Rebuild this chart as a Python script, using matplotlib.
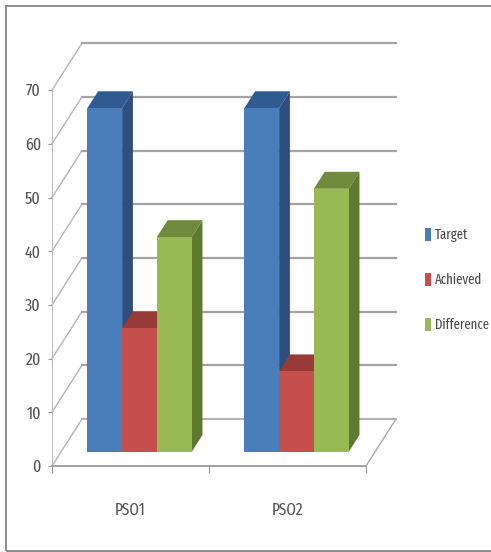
import matplotlib
matplotlib.use('Agg')
import matplotlib.pyplot as plt
from matplotlib.patches import Patch, Rectangle

categories = ['PSO1', 'PSO2']
series_names = ['Target', 'Achieved', 'Difference']
target = [64, 64]
achieved = [23, 15]
difference = [40, 49]
value_ticks = [0, 10, 20, 30, 40, 50, 60, 70]

front_colors = ['#4A7EBB', '#C44F4C', '#98B954']
top_colors = ['#2F5A92', '#983A38', '#6F8A3A']
side_colors = ['#2E4F7E', '#8A3432', '#5F7A30']

W, H = 491, 552
# scale of the plot: pixels per category and per value unit
px_cat = 157.0
px_val = 5.37
x0_px, y0_px = 52, 466
# floor depth in pixels, projected obliquely
depth_x, depth_y = 30, 47

plt.rcParams['font.family'] = ['Fira Sans Extra Condensed', 'PT Sans Narrow', 'Liberation Sans', 'DejaVu Sans']

fig = plt.figure(figsize=(W / 100, H / 100), dpi=100, facecolor='white')
ax = fig.add_axes([0, 0, 1, 1])
ax.set_xlim(-x0_px / px_cat, (W - x0_px) / px_cat)
ax.set_ylim(-(H - y0_px) / px_val, y0_px / px_val)
ax.patch.set_visible(False)


def proj(x, v, d):
    # oblique projection: d runs from 0 (front of floor) to 1 (back wall)
    return x + d * depth_x / px_cat, v + d * depth_y / px_val


# walls and gridlines
grid_col = '#A3A3A3'
for v in value_ticks:
    xa, ya = proj(0, v, 0)
    xb, yb = proj(0, v, 1)
    xc, yc = proj(2, v, 1)
    lw = 1.6 if v > 0 else 1.2
    ax.plot([xa, xb], [ya, yb], color='#B5B5B5', lw=1.0, zorder=1)
    ax.plot([xb, xc], [yb, yc], color=grid_col, lw=lw, zorder=1)
xa, ya = proj(2, 0, 0)
xb, yb = proj(2, 0, 1)
ax.plot([xa, xb], [ya, yb], color='#A8A8A8', lw=1.0, zorder=1)

# 3D bars, drawn left to right so nearer faces overlap correctly
bar_w = 0.2215
d_front, d_back = 0.30, 0.66
values = [target, achieved, difference]
z = 2
for c in range(len(categories)):
    for s in range(len(series_names)):
        v = values[s][c]
        left = c + 0.5 - 1.5 * bar_w + s * bar_w
        right = left + bar_w
        side = [proj(right, 0, d_front), proj(right, 0, d_back),
                proj(right, v, d_back), proj(right, v, d_front)]
        top = [proj(left, v, d_front), proj(left, v, d_back),
               proj(right, v, d_back), proj(right, v, d_front)]
        front = [proj(left, 0, d_front), proj(right, 0, d_front),
                 proj(right, v, d_front), proj(left, v, d_front)]
        ax.fill(*zip(*side), color=side_colors[s], lw=0, zorder=z)
        ax.fill(*zip(*top), color=top_colors[s], lw=0, zorder=z)
        ax.fill(*zip(*front), color=front_colors[s], lw=0, zorder=z)
        z += 1

# front axes
for name in ['top', 'right']:
    ax.spines[name].set_visible(False)
ax.spines['left'].set_position(('data', 0))
ax.spines['left'].set_bounds(0, 70)
ax.spines['left'].set_color('#BDBDBD')
ax.spines['bottom'].set_position(('data', 0))
ax.spines['bottom'].set_bounds(0, 2)
ax.spines['bottom'].set_color('#9A9A9A')
ax.spines['bottom'].set_linewidth(1.3)
ax.set_yticks(value_ticks)
ax.set_xticks([0, 1, 2])
ax.set_xticklabels(['', '', ''])
ax.set_xticks([0.5, 1.5], minor=True)
ax.set_xticklabels(categories, minor=True)
ax.tick_params(axis='x', which='major', length=5, color='#9A9A9A')
ax.tick_params(axis='x', which='minor', length=0, pad=26, labelsize=12, labelcolor='#555555')
ax.tick_params(axis='y', length=3, color='#9A9A9A', pad=5, labelsize=12.5, labelcolor='#555555')

handles = [Patch(facecolor=col, edgecolor='none') for col in front_colors]
ax.legend(handles, series_names, loc='center left', bbox_to_anchor=(425 / W, 1 - 280 / H),
          bbox_transform=fig.transFigure, frameon=False, fontsize=10, labelcolor='#4A4A4A',
          handlelength=0.43, handleheight=1.1, handletextpad=0.3, labelspacing=2.2,
          borderpad=0, borderaxespad=0)

# outer frame of the chart area
fig.add_artist(Rectangle((6 / W, 1 / H), 2, 1 - 7 / H, transform=fig.transFigure, facecolor='none',
                         edgecolor='#8C8C8C', lw=1.4))

fig.savefig('out.png', dpi=100)
